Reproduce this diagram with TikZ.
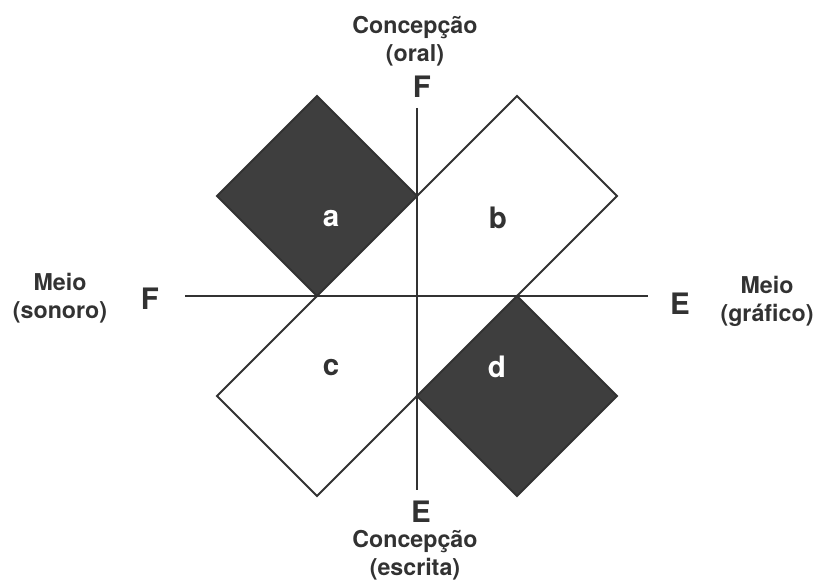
\documentclass[tikz,border=0pt]{standalone}
\usepackage{fontspec}
\setmainfont{TeX Gyre Heros}
\definecolor{inkgray}{RGB}{50,50,50}
\definecolor{fillgray}{RGB}{62,62,62}

\begin{document}
\begin{tikzpicture}[x=0.025cm,y=-0.025cm,
    axislabel/.style={text=inkgray,font=\fontsize{16.5}{20}\selectfont\bfseries,align=center},
    pole/.style={text=inkgray,font=\fontsize{21}{24}\selectfont\bfseries,anchor=base},
    cell/.style={text=white,font=\fontsize{21}{24}\selectfont\bfseries,anchor=base},
    border/.style={line width=1.4pt,draw=inkgray,line join=miter}]
    \useasboundingbox (0,0) rectangle (819,582);
    % corners of the squares
    \path coordinate (a1) at (317,96);
    \path coordinate (a2) at (417,196);
    \path coordinate (a3) at (317,296);
    \path coordinate (a4) at (217,196);
    \path coordinate (b1) at (517,96);
    \path coordinate (b2) at (617,196);
    \path coordinate (b3) at (517,296);
    \path coordinate (c1) at (217,396);
    \path coordinate (c2) at (317,496);
    \path coordinate (c3) at (417,396);
    \path coordinate (d1) at (617,396);
    \path coordinate (d2) at (517,496);
    % ends of the axes
    \path coordinate (vtop) at (417,108);
    \path coordinate (vbot) at (417,490);
    \path coordinate (hleft) at (185,296);
    \path coordinate (hright) at (648,296);
    \fill [fillgray] (a1)--(a2)--(a3)--(a4)--cycle;
    \fill [fillgray] (c3)--(b3)--(d1)--(d2)--cycle;
    \draw [border] (a1)--(a2)--(a3)--(a4)--cycle;
    \draw [border] (c3)--(b3)--(d1)--(d2)--cycle;
    \draw [border] (a2)--(b1)--(b2)--(b3);
    \draw [border] (a3)--(c1)--(c2)--(c3);
    \draw [line width=1.2pt,inkgray] (vtop)--(vbot) (hleft)--(hright);
    \node [cell] (la) at (331,227) {a};
    \node [cell,text=inkgray] (lb) at (498,229) {b};
    \node [cell,text=inkgray] (lc) at (331,375) {c};
    \node [cell] (ld) at (497,377) {d};
    \node [pole] (ptop) at (422,98) {F};
    \node [pole] (pbot) at (421,522) {E};
    \node [pole] (pleft) at (150,310) {F};
    \node [pole] (pright) at (680,315) {E};
    \node [axislabel] (oral) at (415,41) {Concepção\\(oral)};
    \node [axislabel] (escrita) at (415,555) {Concepção\\(escrita)};
    \node [axislabel] (sonoro) at (60,298) {Meio\\(sonoro)};
    \node [axislabel] (grafico) at (767,301) {Meio\\(gráfico)};
\end{tikzpicture}
\end{document}
